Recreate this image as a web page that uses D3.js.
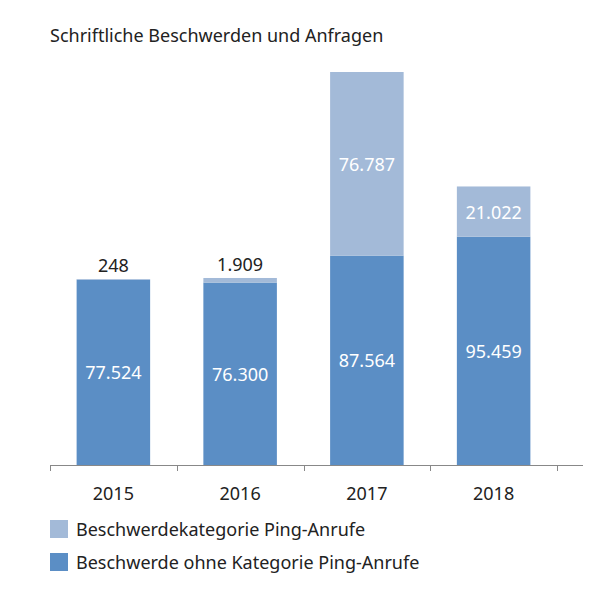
<!DOCTYPE html>
<html><head><meta charset="utf-8">
<script src="https://cdn.jsdelivr.net/npm/d3@7"></script>
<style>body{margin:0;background:#fff}text{font-family:"Noto Sans",sans-serif}</style>
</head><body><svg width="590" height="607"></svg>
<script>
const years=["2015","2016","2017","2018"];
const ohne=[77524,76300,87564,95459];
const ping=[248,1909,76787,21022];
const fmt=d3.format(",");
const de=v=>fmt(v).replace(/,/g,".");
const svg=d3.select("svg");
const x=d3.scaleBand().domain(years).range([50,557]).paddingInner(0.42).paddingOuter(0.21);
const y=d3.scaleLinear().domain([0,164351]).range([465,72]);
const dark="#5b8ec5",light="#a3bad8";
svg.append("text").attr("x",50).attr("y",42).attr("font-size",18).attr("fill","#222").text("Schriftliche Beschwerden und Anfragen");
years.forEach((yr,i)=>{
  const bx=x(yr),w=x.bandwidth();
  svg.append("rect").attr("x",bx).attr("width",w).attr("y",y(ohne[i])).attr("height",y(0)-y(ohne[i])).attr("fill",dark);
  const t=ohne[i]+ping[i];
  svg.append("rect").attr("x",bx).attr("width",w).attr("y",y(t)).attr("height",y(ohne[i])-y(t)).attr("fill",light);
  svg.append("text").attr("x",bx+w/2).attr("y",(y(0)+y(ohne[i]))/2+7).attr("text-anchor","middle").attr("font-size",18).attr("fill","#fff").text(de(ohne[i]));
  const small=y(ohne[i])-y(t)<30;
  svg.append("text").attr("x",bx+w/2).attr("y",small?y(t)-7:(y(t)+y(ohne[i]))/2+7).attr("text-anchor","middle").attr("font-size",18).attr("fill",small?"#222":"#fff").text(de(ping[i]));
  svg.append("text").attr("x",bx+w/2).attr("y",500).attr("text-anchor","middle").attr("font-size",18).attr("fill","#222").text(yr);
});
svg.append("line").attr("x1",50).attr("x2",583).attr("y1",465.5).attr("y2",465.5).attr("stroke","#888");
[0,1,2,3,4].forEach(k=>{const xx=Math.round(50+k*x.step())+0.5;svg.append("line").attr("x1",xx).attr("x2",xx).attr("y1",465).attr("y2",471).attr("stroke","#888");});
const leg=[["Beschwerdekategorie Ping-Anrufe",light],["Beschwerde ohne Kategorie Ping-Anrufe",dark]];
leg.forEach((l,i)=>{
  svg.append("rect").attr("x",50).attr("y",520+i*33).attr("width",18).attr("height",18).attr("fill",l[1]);
  svg.append("text").attr("x",76).attr("y",536+i*33).attr("font-size",18).attr("fill","#222").text(l[0]);
});
</script></body></html>
